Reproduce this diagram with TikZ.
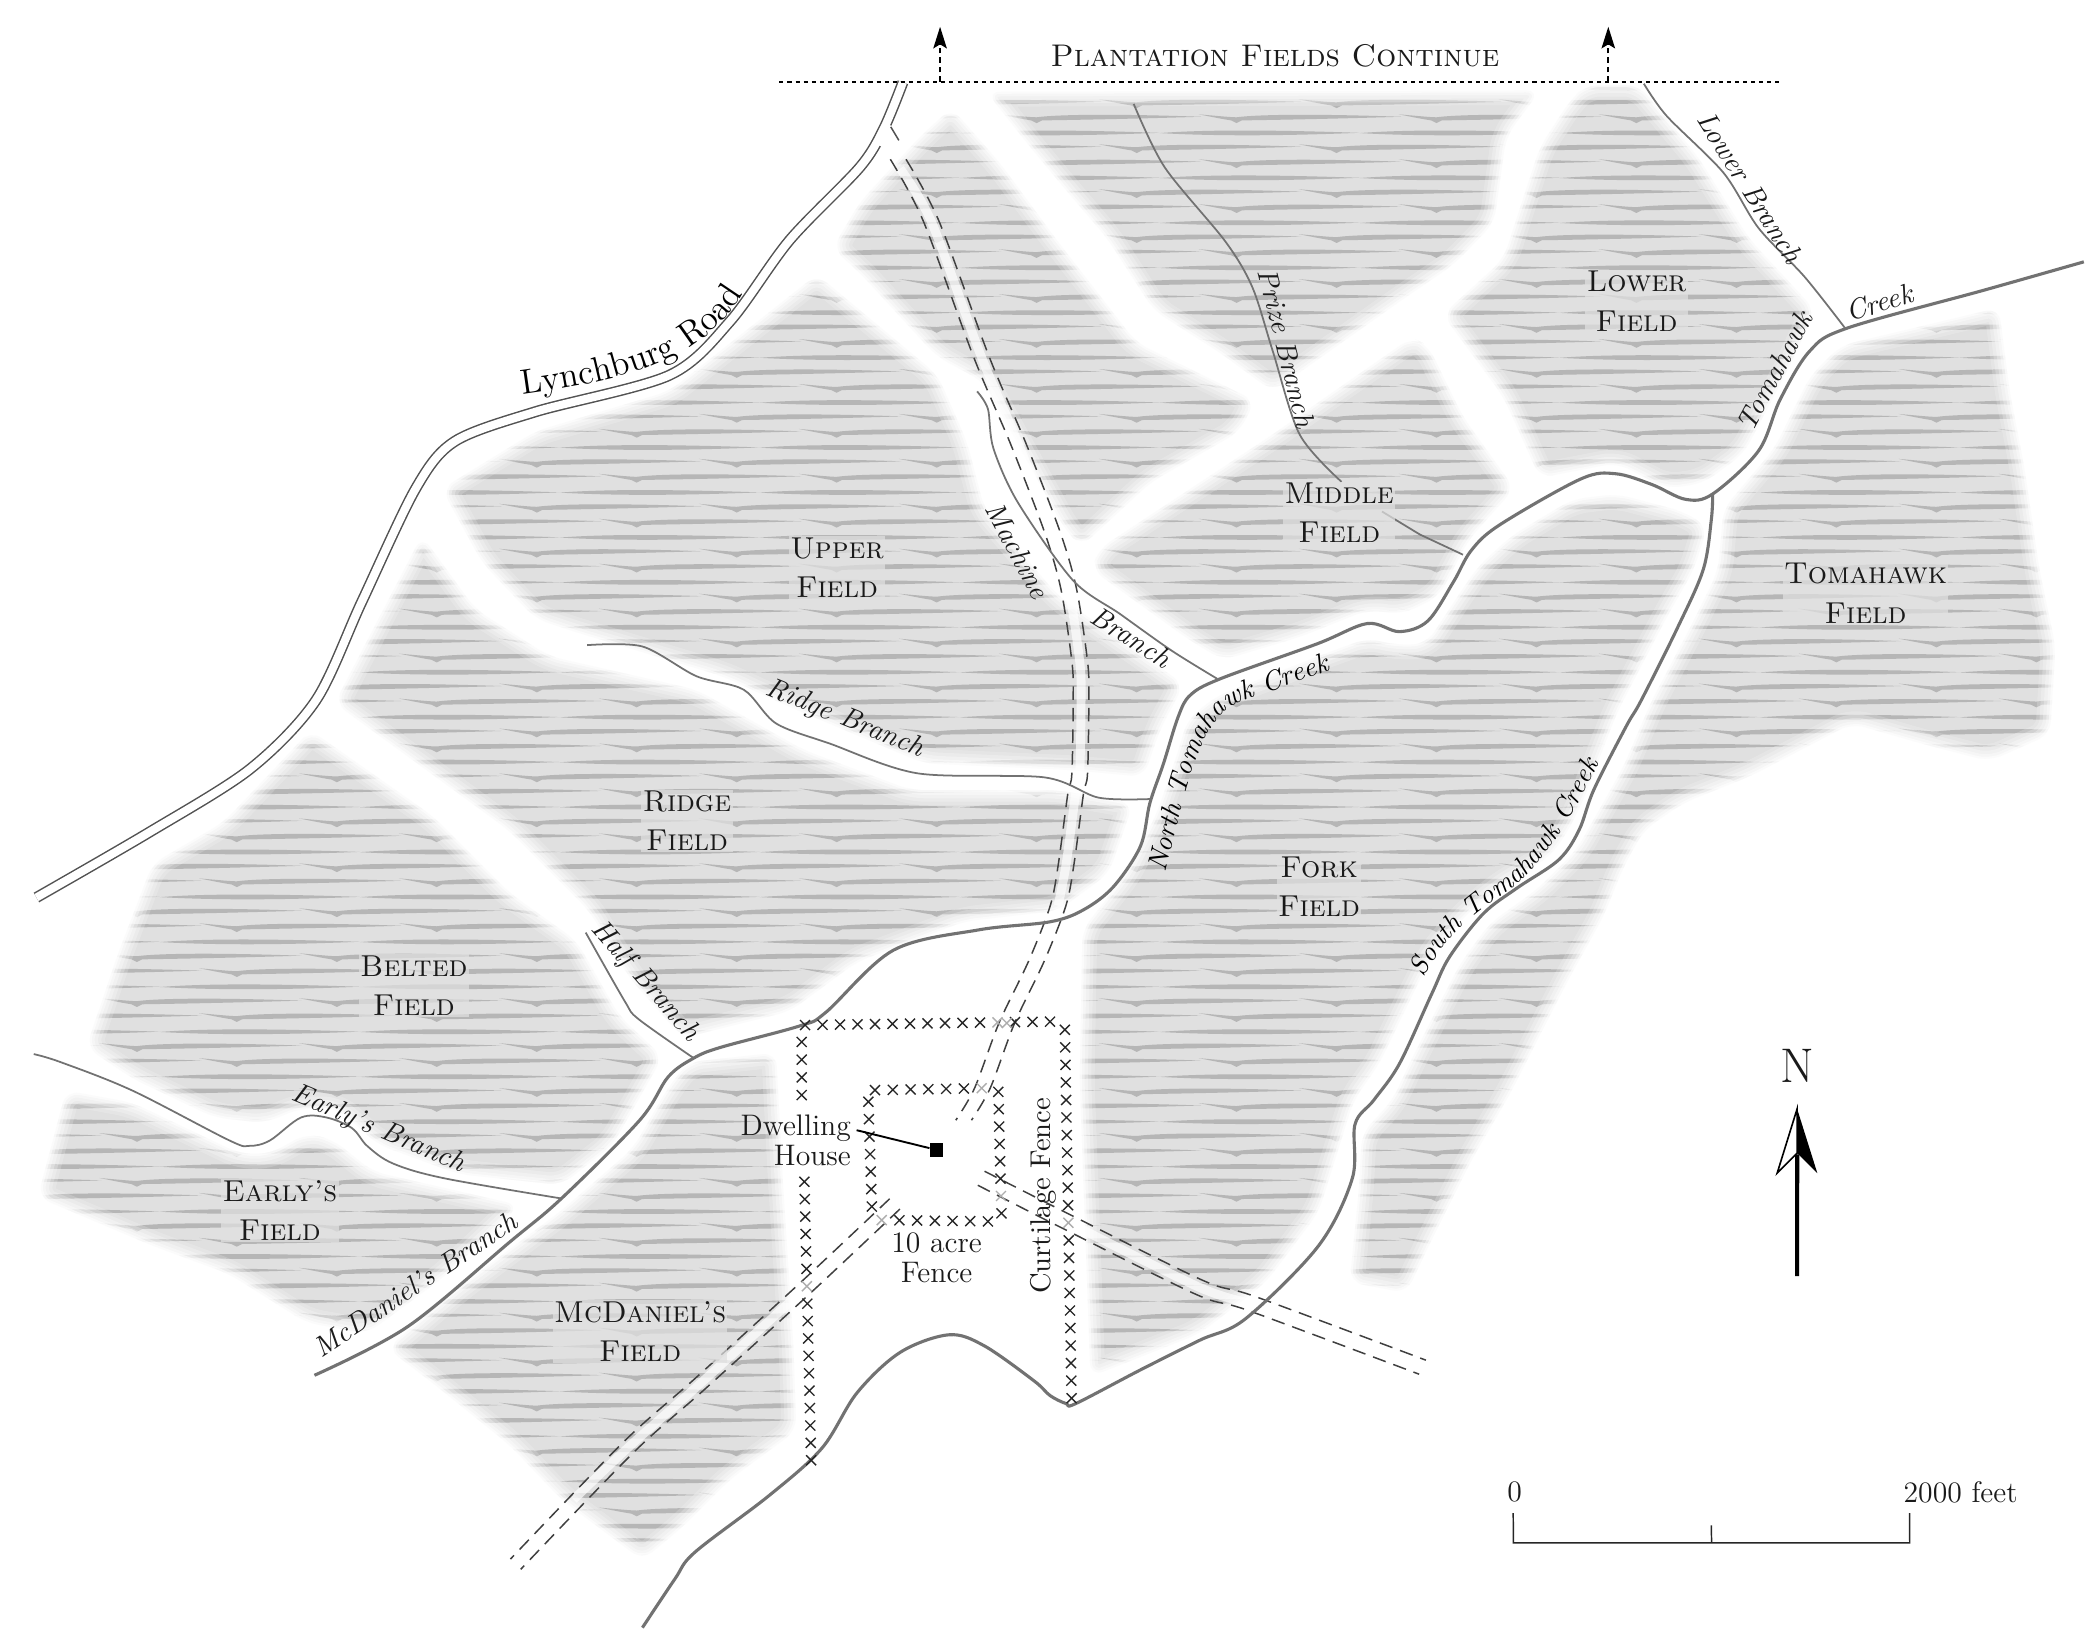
\documentclass[tikz,border=0pt]{standalone}
\usetikzlibrary{arrows.meta,decorations.text}
\definecolor{fieldgray}{HTML}{E0E0E0}
\definecolor{streakgray}{HTML}{B6B6B6}
\definecolor{creekgray}{HTML}{727272}
\definecolor{inkc}{HTML}{1A1A1A}
\def\allfields{
% F1 wedge
(705,80)--(741,121)--(783,178)--(842,254)--(930,297)--(918,320)--(853,357)--(801,405)--(789,392)--(729,283)--(694,264)--(637,202)--(617,184)--(637,150)--(682,101)--cycle
% F2 top
(731,68)--(1141,67)--(1116,101)--(1107,165)--(1077,196)--(1039,222)--(943,290)--(905,262)--(855,230)--(820,176)--(790,141)--(761,106)--cycle
% Lower
(1175,63)--(1214,63)--(1258,116)--(1296,177)--(1345,230)--(1326,271)--(1292,336)--(1262,358)--(1235,362)--(1198,343)--(1141,354)--(1114,294)--(1069,233)--(1114,192)--(1125,158)--(1141,109)--(1163,75)--cycle
% Middle
(1046,250)--(1058,256)--(1084,309)--(1122,362)--(1088,400)--(1066,442)--(1039,455)--(1013,452)--(963,472)--(906,489)--(881,474)--(809,422)--(814,407)--(943,322)--(977,298)--cycle
% Belted
(230,541)--(321,605)--(378,662)--(427,697)--(459,753)--(491,783)--(454,848)--(416,878)--(340,870)--(280,848)--(250,821)--(223,821)--(196,832)--(159,828)--(98,799)--(64,776)--(87,708)--(113,640)--(166,609)--(219,553)--cycle
% Early
(49,808)--(98,817)--(178,855)--(200,855)--(227,840)--(246,844)--(276,868)--(385,893)--(329,946)--(272,988)--(227,980)--(170,944)--(113,923)--(28,887)--cycle
% McDaniel
(510,787)--(575,780)--(580,875)--(588,1000)--(590,1060)--(541,1096)--(506,1131)--(476,1156)--(416,1111)--(378,1071)--(321,1025)--(287,999)--(340,954)--(416,897)--(469,851)--(495,806)--cycle
% Fork
(1198,366)--(1247,379)--(1265,390)--(1255,422)--(1235,457)--(1198,528)--(1173,593)--(1161,617)--(1148,635)--(1111,657)--(1087,677)--(1062,706)--(1047,736)--(1022,788)--(1003,815)--(977,898)--(938,950)--(889,988)--(808,1020)--(800,800)--(802,689)--(835,647)--(857,603)--(871,563)--(880,533)--(901,516)--(980,485)--(1013,473)--(1035,478)--(1057,477)--(1080,442)--(1095,420)--(1120,397)--(1165,370)--cycle
% Tomahawk
(1481,228)--(1364,256)--(1341,279)--(1315,332)--(1277,377)--(1273,423)--(1255,460)--(1223,521)--(1203,568)--(1185,600)--(1168,630)--(1139,659)--(1104,684)--(1082,714)--(1067,743)--(1042,793)--(1032,815)--(1009,840)--(1007,880)--(1000,950)--(1042,958)--(1060,920)--(1090,860)--(1119,810)--(1148,753)--(1163,724)--(1188,679)--(1203,642)--(1218,615)--(1247,595)--(1297,575)--(1372,536)--(1424,551)--(1474,564)--(1519,544)--(1523,479)--(1511,422)--(1500,347)--(1489,290)--cycle
[scale=.9923]
% Upper
(330,365)--(400,322)--(500,292)--(610,205)--(700,280)--(722,330)--(735,380)--(790,445)--(884,511)--(866,545)--(854,580)--(800,575)--(690,570)--(590,528)--(540,505)--(430,472)--(400,462)--(360,420)--cycle
% Ridge
(315,400)--(355,455)--(410,490)--(520,515)--(600,560)--(680,590)--(790,590)--(846,600)--(828,652)--(790,680)--(720,688)--(640,718)--(590,755)--(510,775)--(470,730)--(440,680)--(380,620)--(250,525)--cycle
}
\def\roadpts{(665.5,118)(690,164)(727,264)(755,330)(780,395)(792,437)(800,490)(801,516)(800,573)(797,588)(790,640)(784,671)(768,712)(746,758)(728,806)(714,830)}
\tikzset{
 x=.5pt,y=-.5pt,
 creek/.style={draw=creekgray,line width=1.15pt,line join=round},
 branchl/.style={draw=creekgray,line width=.65pt,line join=round},
 rdash/.style={draw=black!75,line width=.55pt,dash pattern=on 5pt off 3pt},
 rstrip/.style={draw=white,line width=3.3pt,opacity=.68},
 fencemark/.style={draw=black!85,line width=.5pt},
 fieldname/.style={font=\fontsize{11.2}{14.6}\selectfont\scshape,align=center,text=inkc,fill=fieldgray,fill opacity=.72,text opacity=1,inner sep=.5pt},
 mapname/.style={font=\fontsize{11}{11}\selectfont,align=center,text=inkc,inner sep=0pt},
 creekname/.style={font=\fontsize{10.5}{11}\selectfont\itshape,text=inkc,inner sep=0pt},
}
\newcommand\fmark[3][black!85]{\draw[fencemark,draw=#1] ({#2-3.7},{#3-3.7})--({#2+3.7},{#3+3.7}) ({#2-3.7},{#3+3.7})--({#2+3.7},{#3-3.7});}
\newcommand\fencerun[6]{\foreach \i in {0,...,#5}{
  \pgfmathsetmacro\fx{#1+(#3-#1)*\i/#5}\pgfmathsetmacro\fy{#2+(#4-#2)*\i/#5}
  \ifnum\i=#6 \fmark[black!32]{\fx}{\fy}\else \fmark{\fx}{\fy}\fi}}
\begin{document}
\begin{tikzpicture}
\useasboundingbox (0,0) rectangle (1556,1217.4);
\fill[white] (0,0) rectangle (1556,1217.4);
% fields
\fill[fieldgray,rounded corners=5pt] \allfields;
\begin{scope}
\clip[rounded corners=5pt] \allfields;
\foreach \r in {-1,...,36}{\foreach \c in {-1,...,10}{
\begin{scope}[shift={({101.45+\c*148.15},{9.6+\r*33.3})}]
 \fill[streakgray] (-28,-2.6)..controls(-12,-1.2)and(-5,-.5)..(0,-.4)..controls(18,-2.8)and(65,-2.8)..(122,-.8)..controls(70,.8)and(25,1.6)..(4,1.9)--(0,3.9)--(-4,1.9)..controls(-10,1)and(-18,-.6)..cycle;
 \fill[streakgray] (46,8.5)..controls(62,9.9)and(69,10.6)..(74,10.7)..controls(92,8.3)and(139,8.3)..(196,10.3)..controls(144,11.9)and(99,12.7)..(78,13)--(74,15)--(70,13)..controls(64,12.1)and(56,10.5)..cycle;
 \fill[streakgray] (17,22.4)..controls(50,19.8)and(100,20)..(165,22.2)..controls(110,24.4)and(60,24.8)..cycle;
\end{scope}}}
\end{scope}
% soft edges
\draw[white,line width=11pt,opacity=.18,rounded corners=5pt] \allfields;
\draw[white,line width=8.5pt,opacity=.24,rounded corners=5pt] \allfields;
\draw[white,line width=6pt,opacity=.3,rounded corners=5pt] \allfields;
\draw[white,line width=3.5pt,opacity=.4,rounded corners=5pt] \allfields;
\draw[white,line width=1.5pt,opacity=.6,rounded corners=5pt] \allfields;
% farm roads
\draw[rstrip] plot[smooth,tension=.5] coordinates {(667,125)(690,164)(727,264)(755,330)(780,395)(792,437)(800,490)(801,516)(800,573)(797,588)(790,640)(784,671)};
\draw[rstrip] plot[smooth,tension=.5] coordinates {(597,954)(519,1025)(466,1072)(425,1111)};
\draw[rstrip] plot[smooth,tension=.5] coordinates {(790,905)(889,954)(928,966)};
\begin{scope}[xshift=-2.9pt]
\draw[rdash] plot[smooth,tension=.5] coordinates {\roadpts};
\end{scope}
\begin{scope}[xshift=2.9pt]
\draw[rdash] plot[smooth,tension=.5] coordinates {\roadpts};
\end{scope}
\begin{scope}[shift={(-3.8,-3.8)}]
\draw[rdash] plot[smooth,tension=.5] coordinates {(663,892)(597,954)(519,1025)(466,1072)(382,1159)};
\end{scope}
\begin{scope}[shift={(3.8,3.8)}]
\draw[rdash] plot[smooth,tension=.5] coordinates {(663,892)(597,954)(519,1025)(466,1072)(382,1159)};
\end{scope}
\begin{scope}[shift={(2.5,-5.2)}]
\draw[rdash] plot[smooth,tension=.5] coordinates {(727,873)(790,905)(889,954)(928,966)(1054,1013)};
\end{scope}
\begin{scope}[shift={(-2.5,5.2)}]
\draw[rdash] plot[smooth,tension=.5] coordinates {(727,873)(790,905)(889,954)(928,966)(1054,1013)};
\end{scope}
% streams
\draw[creek] plot[smooth,tension=.55] coordinates {(1544,194)(1470,215)(1369,243)(1341,260)(1319,296)(1303,334)(1269,366)(1249,370)(1224,359)(1197,351)(1171,355)(1111,389)(1090,408)(1077,431)(1058,460)(1037,468)(1013,462)(976,477)(904,503)(882,515)(873,531)(862,566)(852,595)(845,627)(825,657)(803,674)(778,683)(725,689)(662,704)(612,750)(593,760)(534,776)(514,784)(495,798)(474,830)(416,888)(378,920)(302,983)(233,1019)};
\draw[creek] plot[smooth,tension=.55] coordinates {(1269,366)(1268,385)(1262,422)(1243,465)(1216,519)(1205,538)(1181,585)(1170,615)(1155,637)(1124,658)(1099,677)(1074,709)(1061,736)(1037,788)(1018,815)(1004,833)(1002,873)(977,923)(923,977)(889,993)(845,1015)(797,1040)(790,1040)(778,1034)(766,1023)(729,997)(703,989)(667,1002)(635,1032)(609,1073)(570,1108)(515,1150)(500,1170)(476,1206)};
\draw[branchl] plot[smooth,tension=.5] coordinates {(1218,62)(1235,86)(1277,128)(1303,169)(1337,205)(1367,243)};
\draw[branchl] plot[smooth,tension=.5] coordinates {(840,77)(863,124)(908,179)(928,213)(943,260)(963,322)(994,357)};
\draw[branchl] (1024,379)--(1052,396)--(1084,411);
\draw[branchl] plot[smooth,tension=.5] coordinates {(724,290)(732,303)(736,332)(754,372)(795,430)(830,455)(868,482)(902,503)};
\draw[branchl] plot[smooth,tension=.5] coordinates {(435,478)(476,479)(516,501)(551,511)(575,536)(615,551)(680,573)(774,576)(814,591)(853,592)};
\draw[branchl] plot[smooth,tension=.5] coordinates {(434,691)(463,742)(473,755)(514,784)};
\draw[branchl] plot[smooth,tension=.55] coordinates {(25,781)(45,787)(98,808)(170,845)(185,849)(200,845)(223,828)(242,828)(261,836)(272,849)(291,862)(329,873)(416,888)};
% Lynchburg Road
\draw[draw=black!68,line width=.55pt,double=white,double distance=3pt] plot[smooth,tension=.5] coordinates {(27,665)(110,617)(185,570)(234,519)(268,446)(308,362)(337,327)(397,305)(496,278)(541,238)(585,178)(637,124)(655,95)(669,61)};
\draw[white,line width=2pt] (660,93)--(652,108);
\draw[draw=black!68,line width=.55pt] (660,94)--(666,104);
% plantation line
\begin{scope}[scale=.9923]
\coordinate (tl) at (582,61);\coordinate (tr) at (1330,61);
\draw[black,line width=.6pt,dash pattern=on 1.5pt off 1.5pt] (tl)--(tr);
\coordinate (a1) at (702,61);\coordinate (a1e) at (702,20);
\coordinate (a2) at (1201,61);\coordinate (a2e) at (1201,20);
\draw[black,line width=.6pt,dash pattern=on 2pt off 1.5pt,-{Stealth[length=8pt,width=5pt,inset=1.5pt]}] (a1)--(a1e);
\draw[black,line width=.6pt,dash pattern=on 2pt off 1.5pt,-{Stealth[length=8pt,width=5pt,inset=1.5pt]}] (a2)--(a2e);
\end{scope}
% fences
\fencerun{596.5}{759.5}{778}{757}{14}{11}
\fmark[black!32]{746}{758}
\fencerun{594}{772}{594}{811.4}{3}{-1}
\fencerun{596}{875.6}{601}{1082}{16}{6}
\fencerun{789}{763}{794}{1036}{21}{11}
\fencerun{648.3}{807.7}{727.4}{806.3}{6}{6}
\fencerun{643.4}{816.3}{646}{894}{6}{-1}
\fencerun{653.3}{904}{732}{905}{6}{0}
\fencerun{739.7}{809}{742}{899}{7}{6}
% house
\node[fill=black,minimum size=4.9pt,inner sep=0pt] (house) at (694,852) {};
\coordinate (dhl) at (634.7,837.4);
\draw[black,line width=.7pt] (dhl)--(house);
% labels placed in view coordinates
\begin{scope}[scale=.9923]
\node[font=\fontsize{11.6}{13}\selectfont\scshape,text=inkc,inner sep=0pt] (pf) at (952,42) {Plantation Fields Continue};
\node[fieldname] (f1) at (625,424) {Upper\\Field};
\node[fieldname] (f2) at (1000,383) {Middle\\Field};
\node[fieldname] (f3) at (1222,225) {Lower\\Field};
\node[fieldname] (f4) at (1393,443) {Tomahawk\\Field};
\node[fieldname] (f5) at (513,613) {Ridge\\Field};
\node[fieldname] (f6) at (985,662) {Fork\\Field};
\node[fieldname] (f7) at (309,736) {Belted\\Field};
\node[fieldname] (f8) at (209,904) {Early's\\Field};
\node[fieldname] (f9) at (478,994) {McDaniel's\\Field};
\node[creekname,rotate=-22] (l1) at (631,537) {Ridge Branch};
\node[creekname,rotate=-62] (l2) at (760,411) {Machine};
\node[creekname,rotate=-76] (l4) at (961,260) {Prize Branch};
\node[creekname,rotate=-58] (l5) at (1307,140) {Lower Branch};
\node[creekname,rotate=62] (l6) at (1325,277) {Tomahawk};
\node[creekname,rotate=17] (l7) at (1403,226) {Creek};
\node[creekname,rotate=33.5] (l9) at (310,959) {McDaniel's Branch};
\path[decorate,decoration={text along path,text align=center,text={|\fontsize{13}{13}\selectfont|Lynchburg Road}}] (388,295) .. controls (460,285) and (525,272) .. (556,217);
% north arrow
\node[font=\fontsize{18}{18}\selectfont,text=inkc,inner sep=0pt] (nn) at (1342,796) {N};
\coordinate (nb) at (1342,953);\coordinate (nt) at (1342,828);
\draw[black,line width=1.5pt] (nb)--(1342,862);
\fill[black] (nt)--(1357,876)--(1342,861)--cycle;
\draw[black,line width=.6pt,line join=miter,fill=white] (nt)--(1327,876)--(1342,861)--cycle;
% scale
\coordinate (s0) at (1130,1130);\coordinate (s1) at (1426,1130);\coordinate (sm) at (1278,1139);
\draw[black!85,line width=.55pt] (s0)--(1130,1152)--(1426,1152)--(s1) (sm)--(1278,1152);
\node[mapname] (z0) at (1131,1114) {0};
\node[mapname] (z1) at (1464,1114) {2000 feet};
\end{scope}
\node[mapname,align=right] (dh) at (589.6,845) {Dwelling\\House};
\node[mapname] (ten) at (694,932) {10 acre\\Fence};
\node[mapname,font=\fontsize{10.6}{11}\selectfont,rotate=90] (cf) at (773,886) {Curtilage Fence};
\node[creekname,rotate=-32] (l3) at (838,472) {Branch};
\node[creekname,rotate=-23] (l10) at (280.5,837) {Early's Branch};
\node[creekname,rotate=-49] (l11) at (478,727) {Half Branch};
\path[decorate,decoration={text along path,text align=center,text={|\fontsize{10.2}{11}\selectfont\itshape|North Tomahawk Creek}}] (864,645) .. controls (877,592) and (887,535) .. (917,521) -- (984,497);
\path[decorate,decoration={text along path,text align=center,text={|\fontsize{10}{11}\selectfont\itshape|South Tomahawk Creek}}] (1050,735) .. controls (1073,682) and (1110,668) .. (1125,654) .. controls (1150,632) and (1172,592) .. (1190,555);
\end{tikzpicture}
\end{document}
